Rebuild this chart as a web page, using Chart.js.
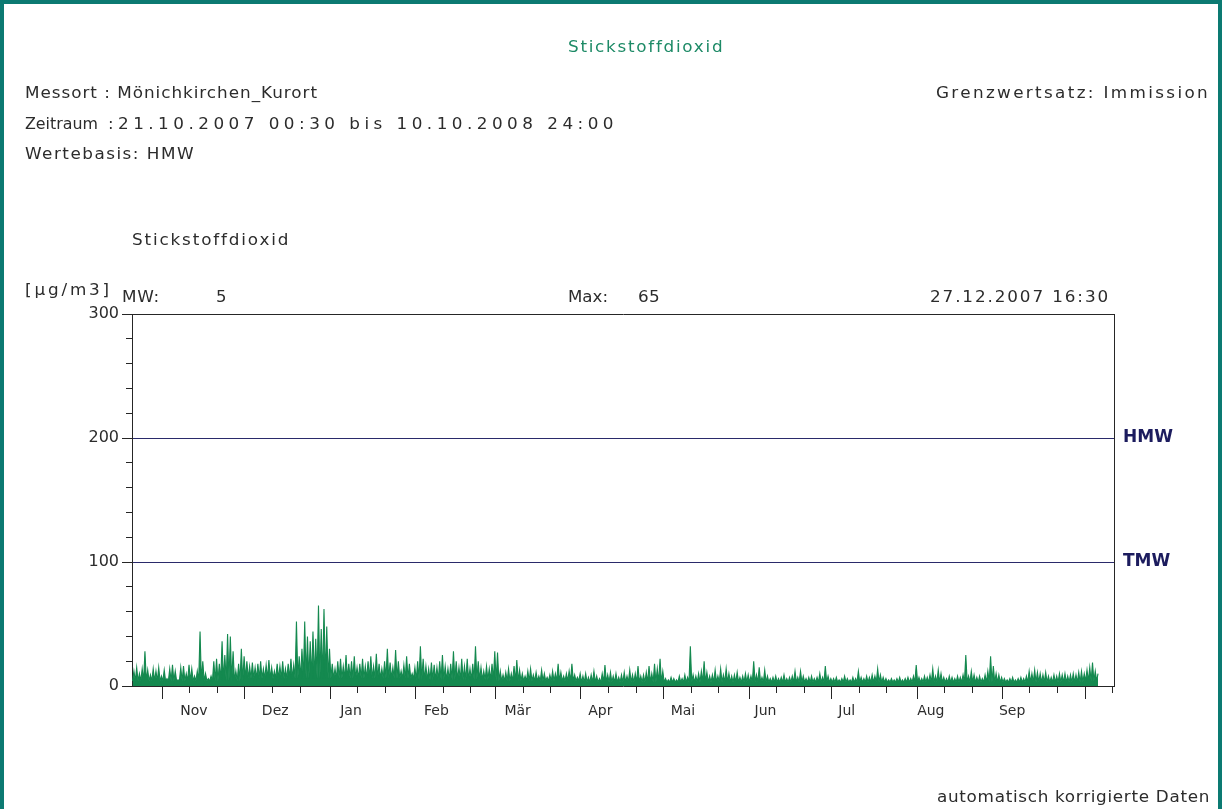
<!DOCTYPE html>
<html>
<head>
<meta charset="utf-8">
<script src="https://cdn.jsdelivr.net/npm/chart.js@4.4.0/dist/chart.umd.min.js"></script>
<style>
  html, body { margin: 0; padding: 0; background: #fff; }
  #page { position: relative; width: 1223px; height: 809px; overflow: hidden; background: #fff; }
  #frame { position: absolute; left: 0; top: 0; width: 1214px; height: 840px; border: 4px solid #0c7a72; }
  #chart { position: absolute; left: 0; top: 0; }
  .t { position: absolute; font-family: "DejaVu Sans", sans-serif; font-size: 15px; line-height: 18px;
       color: #2c2c2c; white-space: pre; z-index: 2; transform-origin: left center; transform: scaleX(1.1); }
  .title { color: #1d8a66; }
</style>
</head>
<body>
<div id="page">
  <div id="frame"></div>
  <canvas id="chart" width="1223" height="809"></canvas>

  <div class="t title" style="left:568px; top:38px;" data-w="156">Stickstoffdioxid</div>
  <div class="t" style="left:25px; top:84px;" data-w="293">Messort : Mönichkirchen_Kurort</div>
  <div class="t" style="left:25px; top:115px;" data-w="73">Zeitraum</div>
  <div class="t" style="left:108px; top:115px;">:</div>
  <div class="t" style="left:118px; top:115px;" data-w="500">21.10.2007 00:30 bis 10.10.2008 24:00</div>
  <div class="t" style="left:25px; top:145px;" data-w="170">Wertebasis: HMW</div>
  <div class="t" style="left:936px; top:84px;" data-w="274">Grenzwertsatz: Immission</div>
  <div class="t" style="left:132px; top:231px;" data-w="158">Stickstoffdioxid</div>
  <div class="t" style="left:25px; top:281px;" data-w="87">[µg/m3]</div>
  <div class="t" style="left:122px; top:288px;" data-w="38">MW:</div>
  <div class="t" style="left:216px; top:288px;">5</div>
  <div class="t" style="left:568px; top:288px;" data-w="40">Max:</div>
  <div class="t" style="left:638px; top:288px;" data-w="22">65</div>
  <div class="t" style="left:930px; top:288px;" data-w="180">27.12.2007 16:30</div>
  <div class="t" style="left:937px; top:788px;" data-w="273">automatisch korrigierte Daten</div>
</div>

<script>
// Stickstoffdioxid, HMW, Mönichkirchen_Kurort, 21.10.2007 - 10.10.2008
// x values are days counted from 21.10.2007 00:00

// daily peak of the half-hour values (µg/m3), from 21.10.2007
const dailyMax = [
  12, 15, 10, 14, 28, 13, 9, 14, 12, 15,
  8, 13, 6, 14, 17, 12, 5, 15, 16, 10,
  17, 14, 8, 12, 44, 20, 10, 6, 8, 20,
  22, 18, 36, 25, 42, 40, 28, 12, 18, 30,
  24, 20, 16, 19, 15, 18, 20, 14, 17, 21,
  15, 12, 18, 16, 20, 14, 18, 22, 17, 52,
  24, 30, 52, 40, 36, 44, 38, 65, 46, 62,
  48, 30, 18, 14, 20, 22, 16, 25, 18, 20,
  24, 15, 18, 22, 16, 20, 24, 16, 26, 18,
  14, 20, 30, 19, 15, 29, 20, 12, 17, 24,
  18, 10, 15, 20, 32, 22, 16, 14, 19, 17,
  15, 20, 25, 16, 14, 18, 28, 20, 15, 22,
  16, 22, 14, 18, 32, 20, 15, 12, 16, 14,
  18, 28, 27, 12, 9, 11, 14, 10, 16, 21,
  13, 10, 8, 12, 14, 9, 11, 8, 13, 10,
  7, 9, 12, 10, 18, 11, 8, 10, 12, 18,
  9, 7, 10, 8, 10, 7, 9, 12, 8, 6,
  10, 17, 9, 11, 8, 10, 7, 9, 11, 8,
  13, 9, 10, 16, 8, 9, 11, 16, 10, 18,
  14, 22, 12, 6, 5, 7, 6, 5, 8, 6,
  9, 7, 32, 9, 8, 10, 12, 20, 11, 8,
  9, 13, 8, 14, 9, 14, 10, 8, 9, 11,
  7, 8, 10, 9, 8, 20, 9, 15, 7, 13,
  8, 6, 7, 8, 6, 7, 9, 6, 7, 8,
  12, 7, 12, 8, 6, 7, 8, 6, 7, 10,
  7, 16, 8, 6, 6, 7, 5, 6, 8, 6,
  5, 7, 6, 12, 7, 6, 8, 7, 9, 8,
  14, 9, 7, 6, 5, 6, 5, 6, 7, 5,
  6, 7, 6, 8, 17, 7, 6, 8, 7, 9,
  14, 8, 13, 10, 7, 6, 8, 7, 6, 8,
  7, 9, 25, 8, 12, 9, 7, 8, 6, 9,
  12, 24, 16, 10, 9, 7, 6, 5, 6, 7,
  5, 6, 7, 6, 8, 12, 10, 13, 11, 10,
  9, 11, 8, 7, 9, 8, 10, 9, 10, 8,
  9, 10, 9, 11, 12, 10, 13, 15, 19, 12, 10
];

// level of the dense part of the band per month (Okt 07 ... Okt 08)
const monthLow = [4, 4, 6, 6, 5, 4, 3, 3, 3, 3, 3, 3, 4];

// x axis: first of month (long ticks), 11th / 21st (short ticks), label positions
const monthStartDays = [11, 41, 72, 103, 132, 163, 193, 224, 254, 285, 316, 346];
const tenDayTicks = [21, 31, 51, 61, 82, 92, 113, 123, 142, 152, 173, 183, 203, 213,
                     234, 244, 264, 274, 295, 305, 326, 336, 356];
const monthLabelDays = [22.5, 52, 79.5, 110.5, 140, 170, 200, 230, 259.5, 290, 319.5];
const monthNames = ['Nov', 'Dez', 'Jan', 'Feb', 'Mär', 'Apr', 'Mai', 'Jun', 'Jul', 'Aug', 'Sep'];

// y axis
const yLabelTicks = [0, 100, 200, 300];
const yMinorTicks = [0, 20, 40, 60, 80, 100, 120, 140, 160, 180, 200, 220, 240, 260, 280, 300];

// limit lines
const limitValues = [100, 200];
const limitNames = ['TMW', 'HMW'];

const axisColor = '#262626';
const lineGreen = '#14894f';

// low / high once per day
const points = [];
dailyMax.forEach((mx, d) => {
  const low = monthLow[monthStartDays.filter(s => s <= d).length];
  points.push({ x: d + 0.2, y: Math.min(low, mx) });
  points.push({ x: d + 0.7, y: mx });
});

const setTicks = vals => scale => { scale.ticks = vals.map(v => ({ value: v })); };

const ctx = document.getElementById('chart').getContext('2d');
new Chart(ctx, {
  type: 'line',
  data: {
    datasets: [{
      data: points,
      borderColor: lineGreen,
      backgroundColor: lineGreen,
      fill: 'origin',
      borderWidth: 1.1,
      pointRadius: 0,
      tension: 0,
      xAxisID: 'x',
      yAxisID: 'y'
    }]
  },
  options: {
    responsive: false,
    animation: false,
    devicePixelRatio: 1,
    layout: { padding: { top: 314, left: 0, right: 0, bottom: 0 } },
    plugins: { legend: { display: false }, tooltip: { enabled: false } },
    scales: {
      x: {
        type: 'linear', position: 'bottom', min: 0, max: 356.5,
        afterBuildTicks: setTicks(monthLabelDays),
        afterFit: s => { s.height = 809 - 686; },
        ticks: {
          autoSkip: false, maxRotation: 0, padding: 17,
          font: { family: 'DejaVu Sans', size: 14 }, color: '#2c2c2c',
          callback: (v, i) => monthNames[i]
        },
        grid: { drawOnChartArea: false, drawTicks: false },
        border: { display: true, color: axisColor, width: 1 }
      },
      xMonth: {
        axis: 'x', type: 'linear', position: { y: 0 }, min: 0, max: 356.5,
        afterBuildTicks: setTicks(monthStartDays),
        ticks: { display: false },
        grid: { drawOnChartArea: false, tickLength: 13, color: axisColor },
        border: { display: false }
      },
      xTen: {
        axis: 'x', type: 'linear', position: { y: 0 }, min: 0, max: 356.5,
        afterBuildTicks: setTicks(tenDayTicks),
        ticks: { display: false },
        grid: { drawOnChartArea: false, tickLength: 7, color: axisColor },
        border: { display: false }
      },
      xTop: {
        axis: 'x', type: 'linear', position: 'top', min: 0, max: 356.5,
        afterFit: s => { s.height = 0; },
        ticks: { display: false },
        grid: { drawOnChartArea: false, drawTicks: false },
        border: { display: true, color: axisColor, width: 1 }
      },
      y: {
        type: 'linear', position: 'left', min: 0, max: 300,
        afterBuildTicks: setTicks(yLabelTicks),
        afterFit: s => { s.width = 132; },
        ticks: { font: { family: 'DejaVu Sans', size: 16 }, color: '#2c2c2c', padding: 3 },
        grid: { drawOnChartArea: false, tickLength: 10, color: axisColor },
        border: { display: true, color: axisColor, width: 1 }
      },
      yMinor: {
        axis: 'y', type: 'linear', position: { x: 0 }, min: 0, max: 300,
        afterBuildTicks: setTicks(yMinorTicks),
        ticks: { display: false },
        grid: { drawOnChartArea: false, tickLength: 6, color: axisColor },
        border: { display: false }
      },
      yLimit: {
        axis: 'y', type: 'linear', position: 'right', min: 0, max: 300,
        afterBuildTicks: setTicks(limitValues),
        afterFit: s => { s.width = 1223 - 1114; },
        ticks: {
          padding: 9, color: '#1c1c5e',
          font: { family: 'DejaVu Sans', size: 17, weight: 'bold' },
          callback: (v, i) => limitNames[i]
        },
        grid: { drawOnChartArea: true, drawTicks: false, color: '#2a2a6a', lineWidth: 1 },
        border: { display: true, color: axisColor, width: 1 }
      }
    }
  }
});

// the plotter font is wide and loosely set: widen a little, then space out
document.querySelectorAll('.t[data-w]').forEach(el => {
  const target = +el.dataset.w;
  el.style.transform = 'none';
  const natural = el.getBoundingClientRect().width;
  const k = Math.max(0.95, Math.min(target / natural, 1.12));
  const spacing = (target - natural * k) / (el.textContent.length * k);
  el.style.transform = 'scaleX(' + k.toFixed(3) + ')';
  el.style.letterSpacing = spacing.toFixed(2) + 'px';
});
</script>
</body>
</html>
